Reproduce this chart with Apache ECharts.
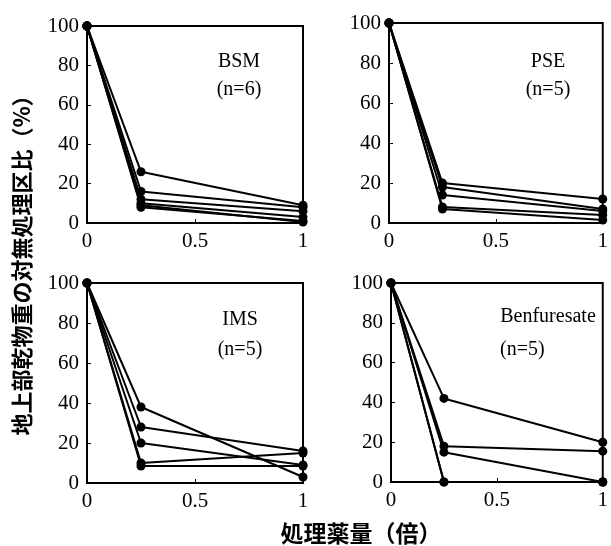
<!DOCTYPE html>
<html lang="ja">
<head>
	<meta charset="UTF-8">
	<title>地上部乾物重の対無処理区比</title>
	<script src="https://cdn.jsdelivr.net/npm/echarts@6/dist/echarts.min.js"></script>
	<style>
		html, body { margin: 0; padding: 0; background: #fff; }
		#main { width: 611px; height: 546px; }
	</style>
</head>
<body>
	<div id="main"></div>
	<script>
		let doses = [0, 0.25, 1];
		let yTicks = [0, 20, 40, 60, 80, 100];
		let xTicks = [0, 0.5, 1];

		let bsm = [
			[100, 26, 9],
			[100, 16, 8],
			[100, 12, 6],
			[100, 10, 3],
			[100, 8, 1],
			[100, 9, 0.5]
		];
		let pse = [
			[100, 20, 12],
			[100, 18, 7],
			[100, 14, 6],
			[100, 8, 4],
			[100, 7, 1.5]
		];
		let ims = [
			[100, 38, 3],
			[100, 28, 16],
			[100, 20, 9],
			[100, 10, 15],
			[100, 8.5, 8.5]
		];
		let benf = [
			[100, 42, 20],
			[100, 18, 15.5],
			[100, 15, 0],
			[100, 0, 0],
			[100, 0, 0]
		];

		let panels = [
			{name: 'BSM', n: '(n=6)', data: bsm},
			{name: 'PSE', n: '(n=5)', data: pse},
			{name: 'IMS', n: '(n=5)', data: ims},
			{name: 'Benfuresate', n: '(n=5)', data: benf}
		];

		let grids = [
			{left: 87, top: 26, width: 216, height: 197},
			{left: 389, top: 23, width: 218, height: 200},
			{left: 87, top: 283, width: 216, height: 200},
			{left: 391, top: 283, width: 218, height: 199}
		];

		let font = '"Liberation Serif", "DejaVu Serif", serif';
		let cjk = '"Noto Sans CJK JP", sans-serif';

		let chart = echarts.init(document.getElementById('main'));

		let xAxis = [], yAxis = [], series = [];
		grids.forEach((g, i) => {
			g.show = true;
			g.borderColor = '#000';
			g.borderWidth = 2;
			xAxis.push({
				type: 'value', gridIndex: i, min: 0, max: 1, interval: 0.5,
				axisLine: {lineStyle: {color: '#000', width: 2}},
				axisTick: {inside: true, length: 4, lineStyle: {color: '#000'}},
				splitLine: {show: false},
				axisLabel: {
					color: '#000', fontFamily: font, fontSize: 21, margin: 8,
					formatter: v => xTicks.indexOf(v) >= 0 ? String(v) : ''
				}
			});
			yAxis.push({
				type: 'value', gridIndex: i, min: 0, max: 100, interval: 20,
				axisLine: {lineStyle: {color: '#000', width: 2}},
				axisTick: {inside: true, length: 4, lineStyle: {color: '#000'}},
				splitLine: {show: false},
				axisLabel: {
					color: '#000', fontFamily: font, fontSize: 21, margin: 8,
					formatter: v => yTicks.indexOf(v) >= 0 ? String(v) : ''
				}
			});
			panels[i].data.forEach(row => {
				series.push({
					type: 'line', xAxisIndex: i, yAxisIndex: i,
					data: row.map((v, k) => [doses[k], v]),
					symbol: 'circle', symbolSize: 9,
					lineStyle: {color: '#000', width: 2},
					itemStyle: {color: '#000'},
					silent: true, animation: false, clip: false
				});
			});
		});

		let labelText = [
			{x: 239, y: 62, t: 'BSM', align: 'center'},
			{x: 239, y: 90, t: '(n=6)', align: 'center'},
			{x: 548, y: 62, t: 'PSE', align: 'center'},
			{x: 548, y: 90, t: '(n=5)', align: 'center'},
			{x: 240, y: 320, t: 'IMS', align: 'center'},
			{x: 240, y: 350, t: '(n=5)', align: 'center'},
			{x: 548, y: 317, t: 'Benfuresate', align: 'center'},
			{x: 500, y: 350, t: '(n=5)', align: 'left'}
		];

		let graphic = labelText.map(l => ({
			type: 'text', x: l.x, y: l.y,
			style: {
				text: l.t, fill: '#000', font: '20px ' + font,
				textAlign: l.align, textVerticalAlign: 'middle'
			}
		}));
		graphic.push({
			type: 'text', x: 22, y: 260, rotation: Math.PI / 2,
			style: {
				text: '地上部乾物重の対無処理区比（%）', fill: '#000',
				font: 'bold 22px ' + cjk, textAlign: 'center', textVerticalAlign: 'middle'
			}
		});
		graphic.push({
			type: 'text', x: 361, y: 533,
			style: {
				text: '処理薬量（倍）', fill: '#000',
				font: 'bold 23px ' + cjk, textAlign: 'center', textVerticalAlign: 'middle'
			}
		});

		chart.setOption({
			animation: false,
			grid: grids,
			xAxis: xAxis,
			yAxis: yAxis,
			series: series,
			graphic: graphic
		});
	</script>
</body>
</html>
